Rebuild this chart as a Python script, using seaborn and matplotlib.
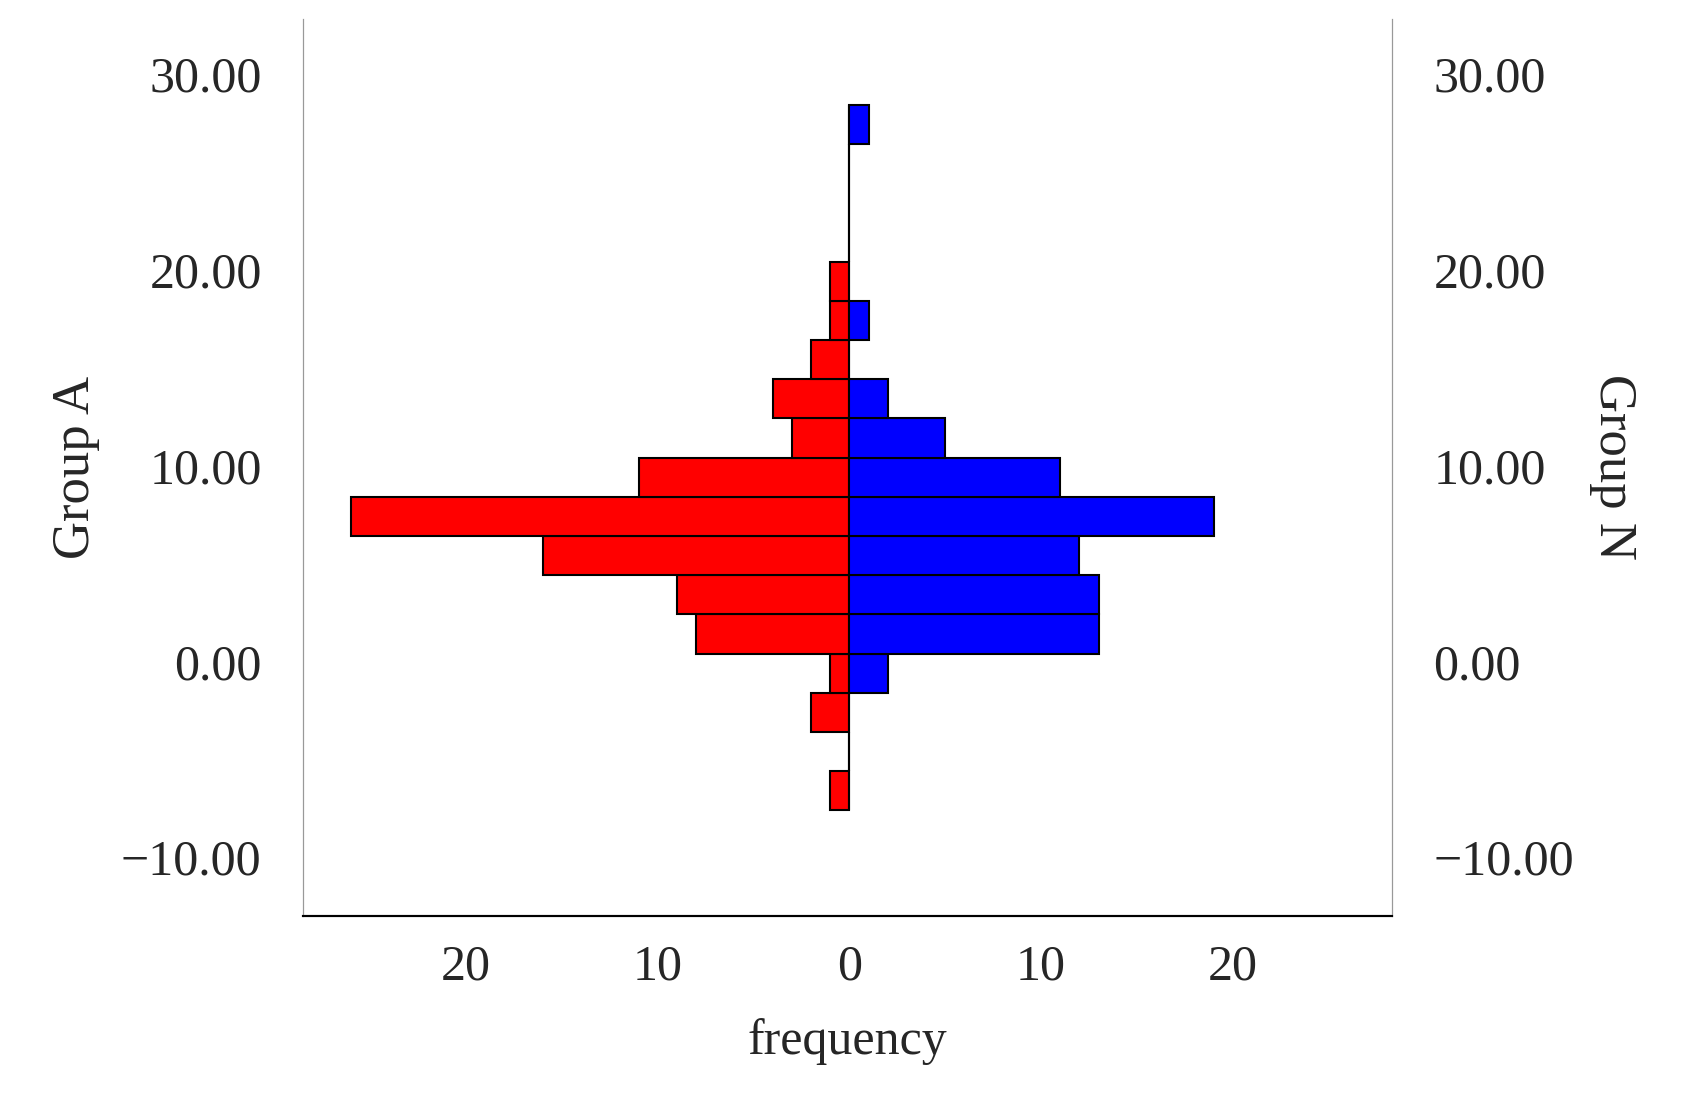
import numpy as np
import matplotlib
matplotlib.use("Agg")
import matplotlib.pyplot as plt
import seaborn as sns

edges = [-7.6, -5.6, -3.6, -1.6, 0.4, 2.4, 4.4, 6.4, 8.4, 10.4, 12.4, 14.4, 16.4, 18.4, 20.4, 22.4, 24.4, 26.4, 28.4]
centers = [-6.6, -4.6, -2.6, -0.6, 1.4, 3.4, 5.4, 7.4, 9.4, 11.4, 13.4, 15.4, 17.4, 19.4, 21.4, 23.4, 25.4, 27.4]
group_a = [1, 0, 2, 1, 8, 9, 16, 26, 11, 3, 4, 2, 1, 1, 0, 0, 0, 0]
group_n = [0, 0, 0, 2, 13, 13, 12, 19, 11, 5, 2, 0, 1, 0, 0, 0, 0, 1]
yticks = [-10, 0, 10, 20, 30]
xticks = [-20, -10, 0, 10, 20]

sns.set_style("white")
plt.rcParams['font.family'] = ['Liberation Serif', 'DejaVu Serif']

fig = plt.figure(figsize=(16.85, 11.13), dpi=100)
ax = fig.add_axes([0.18, 0.177, 0.646, 0.806])

sns.histplot(y=centers, weights=[-v for v in group_a], bins=edges, color="#ff0000",
             alpha=1, edgecolor="black", linewidth=1.5, ax=ax)
sns.histplot(y=centers, weights=group_n, bins=edges, color="#0000ff",
             alpha=1, edgecolor="black", linewidth=1.5, ax=ax)

ax.set_xlim(-28.5, 28.3)
ax.set_ylim(-13, 32.8)
ax.set_xticks(xticks)
ax.set_xticklabels([str(abs(t)) for t in xticks], fontsize=36)
ax.set_yticks(yticks)
ax.set_yticklabels([f"{t:.2f}".replace("-", "\u2212") for t in yticks], fontsize=36)
ax.set_xlabel("frequency", fontsize=36, labelpad=20)
ax.set_ylabel("Group A", fontsize=38, labelpad=15)
ax.tick_params(axis='x', pad=20, length=0)
ax.tick_params(axis='y', length=0, pad=30)

ax2 = ax.twinx()
ax2.set_ylim(ax.get_ylim())
ax2.set_yticks(yticks)
ax2.set_yticklabels([f"{t:.2f}".replace("-", "\u2212") for t in yticks], fontsize=36)
ax2.tick_params(axis='y', length=0, pad=30)
ax2.set_ylabel("Group N", fontsize=38, rotation=270, labelpad=45)

for a in (ax, ax2):
    a.spines['top'].set_visible(False)
    a.spines['left'].set_color("#999999")
    a.spines['right'].set_color("#999999")
    a.spines['bottom'].set_color("black")
    a.spines['bottom'].set_linewidth(1.5)
    a.grid(False)

fig.savefig("out.png", dpi=100)
